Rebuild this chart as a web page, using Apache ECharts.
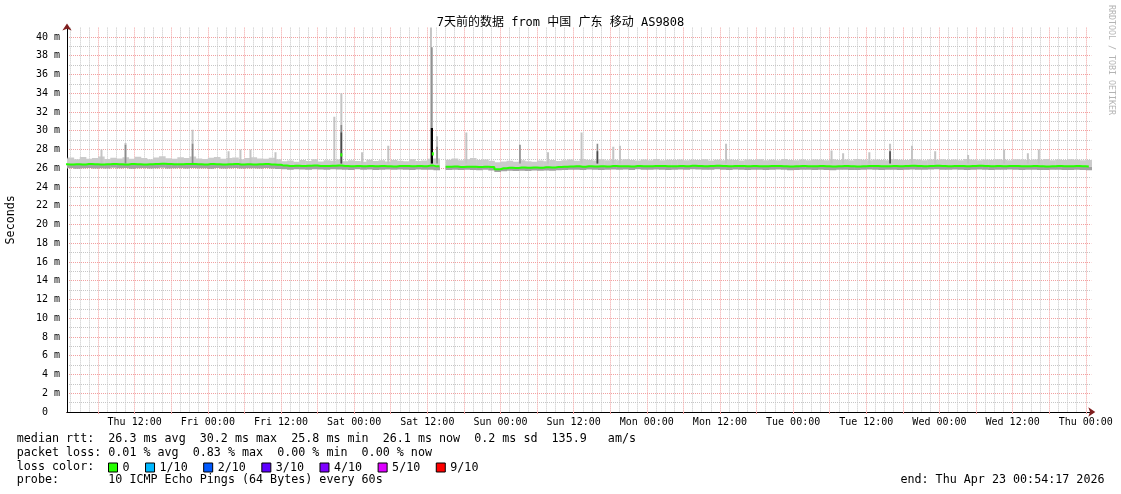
<!DOCTYPE html>
<html><head><meta charset="utf-8">
<script src="https://cdn.jsdelivr.net/npm/echarts@6/dist/echarts.min.js"></script>
<style>html,body{margin:0;padding:0;background:#fff}#c{width:1121px;height:494px}</style>
</head><body><div id="c"></div>
<script>
// Time axis: hours since Thu Apr 16 00:00; window = 7 days ending Thu Apr 23 00:54:17 2026
const START_H = 0.9047;
const END_H = 168.9047;
const xTickLabels = ['Thu 12:00','Fri 00:00','Fri 12:00','Sat 00:00','Sat 12:00','Sun 00:00','Sun 12:00',
  'Mon 00:00','Mon 12:00','Tue 00:00','Tue 12:00','Wed 00:00','Wed 12:00','Thu 00:00'];

// Hourly samples (index k covers hour k .. k+1), values in ms
const medianMs = [
  26.42,26.40,26.43,26.41,26.44,26.42,26.40,26.43,26.45,26.42,
  26.41,26.44,26.43,26.40,26.42,26.45,26.47,26.44,26.42,26.43,
  26.46,26.44,26.42,26.41,26.44,26.43,26.40,26.42,26.44,26.41,
  26.43,26.40,26.42,26.44,26.41,26.38,
  26.28,26.25,26.27,26.24,26.26,26.28,26.25,26.23,26.26,26.30,
  26.24,26.22,26.25,26.21,26.23,26.20,26.24,26.22,26.19,26.23,26.25,26.21,26.24,26.22,26.28,26.20,
  null,
  26.15,26.18,26.14,26.17,26.16,26.13,26.17,26.12,
  25.90,26.00,26.05,26.03,26.07,26.04,26.08,26.06,26.10,26.08,26.12,
  26.15,26.18,26.20,26.17,26.22,26.19,26.21,26.18,26.23,26.20,
  26.22,26.19,26.24,26.21,26.20,26.23,26.25,26.22,26.20,26.24,
  26.22,26.26,26.23,26.21,26.25,26.27,26.24,26.22,26.25,26.23,
  26.21,26.24,26.22,26.20,26.23,26.25,26.22,26.19,26.21,26.24,
  26.22,26.20,26.23,26.21,26.18,26.22,26.24,26.21,26.19,26.22,
  26.25,26.23,26.20,26.22,26.24,26.21,26.23,26.26,26.24,26.22,
  26.25,26.27,26.24,26.22,26.25,26.23,26.21,26.24,26.26,26.23,
  26.21,26.24,26.22,26.25,26.23,26.20,26.22,26.24,26.21,26.19,
  26.22,26.24,26.21,26.20,26.23,26.21,26.19
];
const minMs = [
  25.98,26.02,25.95,26.00,26.03,25.97,26.01,25.96,26.04,25.99,
  26.02,25.95,26.00,26.03,25.98,26.01,26.05,25.97,26.00,26.02,
  25.96,26.03,25.99,26.01,25.95,26.02,25.98,26.00,26.03,25.97,
  26.01,25.99,25.96,26.02,25.98,25.93,
  25.88,25.85,25.90,25.86,25.83,25.89,25.87,25.84,25.90,25.86,
  25.85,25.82,25.88,25.84,25.86,25.80,25.85,25.87,25.83,25.86,25.84,25.81,25.87,25.85,25.84,25.78,
  null,
  25.82,25.85,25.80,25.84,25.81,25.78,25.83,25.76,
  25.60,25.68,25.72,25.70,25.74,25.71,25.75,25.73,25.77,25.74,25.79,
  25.82,25.85,25.83,25.80,25.86,25.84,25.81,25.85,25.87,25.83,
  25.86,25.82,25.88,25.85,25.83,25.86,25.84,25.81,25.85,25.87,
  25.84,25.88,25.86,25.83,25.85,25.89,25.84,25.82,25.86,25.84,
  25.81,25.85,25.83,25.80,25.84,25.86,25.83,25.79,25.82,25.85,
  25.83,25.80,25.84,25.82,25.78,25.83,25.85,25.82,25.80,25.83,
  25.86,25.84,25.81,25.83,25.85,25.82,25.84,25.87,25.85,25.83,
  25.86,25.88,25.85,25.83,25.86,25.84,25.82,25.85,25.87,25.84,
  25.82,25.85,25.83,25.86,25.84,25.81,25.83,25.85,25.82,25.80,
  25.83,25.85,25.82,25.81,25.84,25.82,25.78
];
const maxMs = [
  27.05,27.15,26.95,27.20,27.00,27.10,27.25,26.98,27.12,27.05,
  27.18,27.02,27.22,27.08,26.96,27.14,27.28,27.06,27.00,27.16,
  27.10,27.24,27.04,26.98,27.12,27.20,27.02,27.08,27.15,26.96,
  27.10,27.18,27.04,27.00,27.12,26.95,
  26.75,26.82,26.70,26.88,26.78,26.95,26.72,26.85,26.80,26.92,
  26.74,26.86,26.78,26.70,26.90,26.76,26.84,26.72,26.88,26.80,26.74,26.95,26.78,26.82,27.00,27.05,
  null,
  26.90,27.05,26.85,26.95,27.10,26.88,26.92,26.80,
  26.65,26.72,26.80,26.68,26.85,26.75,26.70,26.82,26.74,26.88,26.78,
  26.85,26.92,26.80,26.98,26.88,26.82,26.95,26.86,26.90,26.84,
  26.96,26.88,26.82,26.92,26.86,26.99,26.84,26.90,26.87,26.93,
  26.85,26.91,26.88,26.96,26.83,26.90,26.86,26.94,26.88,26.82,
  26.92,26.87,26.95,26.84,26.90,26.86,26.98,26.88,26.84,26.92,
  26.86,26.94,26.90,26.85,26.97,26.88,26.92,26.86,26.99,26.90,
  26.86,26.93,26.88,26.84,26.95,26.90,26.87,26.98,26.92,26.86,
  26.94,26.90,26.96,26.88,26.92,26.86,26.98,26.90,26.85,26.93,
  26.88,26.95,26.90,26.86,26.97,26.92,26.88,26.94,26.90,26.99,
  26.86,26.92,26.88,26.95,26.90,26.84,26.88
];
// Spikes: [hour, top ms, shade] shade 0 light,1 mid,2 dark,3 black,4 median(green)
const spikes = [
  [6.56,28.0,0],[10.5,28.7,0],[10.5,28.5,1],[21.5,30.1,0],[21.5,28.6,1],
  [27.4,27.8,0],[29.35,28.0,0],[31.0,28.0,0],[35.1,27.7,0],
  [44.75,31.5,0],[45.9,34.0,0],[45.9,30.6,1],[45.9,29.8,2],[45.9,27.6,4],
  [49.3,27.7,0],[53.6,28.4,0],
  [60.6,41.5,0],[60.75,38.9,1],[60.75,30.3,3],[60.9,27.7,4],
  [61.6,29.4,0],[61.6,28.3,1],[66.4,29.8,0],[75.2,28.5,1],[79.8,27.7,0],
  [85.3,29.8,0],[87.9,28.6,1],[87.9,27.8,2],[90.5,28.3,0],[91.6,28.4,0],
  [109.0,28.6,0],[126.3,27.9,0],[128.2,27.6,0],[132.5,27.7,0],
  [135.9,28.6,0],[135.9,27.8,2],[139.5,28.4,0],[143.3,27.8,0],[148.7,27.4,0],
  [154.6,28.0,0],[158.5,27.6,0],[160.3,28.0,0]
];
const lossNames = ['0','1/10','2/10','3/10','4/10','5/10','9/10'];
const lossColors = ['#26ff00','#00b8ff','#0059ff','#5e00ff','#7e00ff','#dd00ff','#ff0000'];
const statsLines = [
  'median rtt:  26.3 ms avg  30.2 ms max  25.8 ms min  26.1 ms now  0.2 ms sd  135.9   am/s',
  'packet loss: 0.01 % avg  0.83 % max  0.00 % min  0.00 % now',
  'loss color:',
  'probe:       10 ICMP Echo Pings (64 Bytes) every 60s'
];
const endText = 'end: Thu Apr 23 00:54:17 2026';
const titleText = '7天前的数据 from 中国 广东 移动 AS9808';

const MONO = '"DejaVu Sans Mono", monospace';
const GRID_RED = '#f2a0a0', GRID_GREY = '#c6c6c6', ARROW = '#801f1f';

const majorX = [], minorX = [], labelX = [];
for (let v = 1.5; v < END_H; v += 1.5) { if (v % 6 === 0) majorX.push(v); else minorX.push(v); }
for (let v = 12; v < END_H; v += 12) labelX.push(v);

const bandData = [];
medianMs.forEach((m, k) => { if (m != null) bandData.push([k, minMs[k], m, maxMs[k]]); });
const medianData = medianMs.map((m, k) => [k + 0.5, m]);

const spikeColors = ['#c4c4c4', '#8c8c8c', '#4a4a4a', '#000000', '#26ff00'];
const spikeWidths = [2, 1.6, 1.6, 2.2, 2];
const SPIKE_BASE = 26.5;

const chart = echarts.init(document.getElementById('c'), null, {renderer: 'canvas'});
const baseX = {type: 'value', min: START_H, max: END_H, position: 'bottom', gridIndex: 0};
chart.setOption({
  animation: false,
  backgroundColor: '#ffffff',
  title: {text: titleText, left: 'center', top: 12,
    textStyle: {fontFamily: '"DejaVu Sans Mono", "Noto Sans CJK SC", monospace', fontSize: 12, fontWeight: 'normal', color: '#000'}},
  grid: {left: 67, right: 29.7, top: 27.6, bottom: 82, containLabel: false, outerBoundsMode: 'none'},
  legend: {left: 103, top: 456.5, icon: 'rect', itemWidth: 9, itemHeight: 9, itemGap: 15.5, selectedMode: false,
    itemStyle: {borderColor: '#000', borderWidth: 1},
    textStyle: {fontFamily: MONO, fontSize: 11.7, color: '#000'}, data: lossNames},
  xAxis: [
    Object.assign({}, baseX, {
      axisLine: {show: true, lineStyle: {color: ARROW, width: 1}, symbol: ['none', 'arrow'], symbolSize: [7, 7], symbolOffset: [0, 4]},
      axisTick: {show: true, length: 2, customValues: majorX, lineStyle: {color: GRID_RED}},
      axisLabel: {show: true, customValues: labelX, margin: 5, fontFamily: MONO, fontSize: 10, color: '#000',
        formatter: v => xTickLabels[Math.round(v / 12) - 1]},
      splitLine: {show: true, lineStyle: {color: GRID_RED, type: 'dotted', width: 1}}
    }),
    Object.assign({}, baseX, {
      axisLine: {show: false}, axisLabel: {show: false},
      axisTick: {show: false, customValues: minorX},
      splitLine: {show: true, lineStyle: {color: GRID_GREY, type: 'dotted', width: 1}}
    }),
    Object.assign({}, baseX, {
      axisLine: {show: true, lineStyle: {color: '#000', width: 1}}, axisLabel: {show: false},
      axisTick: {show: false}, splitLine: {show: false}
    })
  ],
  yAxis: [
    {type: 'value', min: 0, max: 41, interval: 1,
      name: 'Seconds', nameLocation: 'middle', nameRotate: 90, nameGap: 50,
      nameTextStyle: {fontFamily: MONO, fontSize: 11.7, color: '#000'},
      axisLine: {show: true, lineStyle: {color: ARROW}, symbol: ['none', 'arrow'], symbolSize: [7, 7], symbolOffset: [0, 4]},
      axisTick: {show: false},
      axisLabel: {margin: 7, fontFamily: MONO, fontSize: 10, color: '#000',
        formatter: v => v === 0 ? '0  ' : (v % 2 === 0 && v <= 40 ? v + ' m' : '')},
      splitLine: {show: true, showMaxLine: false, lineStyle: {color: [GRID_RED, GRID_GREY], type: 'dotted', width: 1}}
    },
    {type: 'value', min: 0, max: 41, interval: 1, position: 'left',
      axisLine: {show: true, lineStyle: {color: '#000'}}, axisTick: {show: false}, axisLabel: {show: false}, splitLine: {show: false}}
  ],
  series: [
    {type: 'custom', name: 'smoke', xAxisIndex: 0, yAxisIndex: 0, clip: true, silent: true, z: 2,
      encode: {x: 0, y: [1, 2, 3]}, data: bandData,
      renderItem: (params, api) => {
        const k = api.value(0);
        const a = api.coord([k, api.value(1)]);
        const b = api.coord([k + 1, api.value(2)]);
        const c = api.coord([k, api.value(3)]);
        return {type: 'group', children: [
          {type: 'rect', shape: {x: a[0], y: b[1], width: b[0] - a[0] + 0.5, height: a[1] - b[1]}, style: {fill: '#a2a2a2'}},
          {type: 'rect', shape: {x: a[0], y: c[1], width: b[0] - a[0] + 0.5, height: b[1] - c[1]}, style: {fill: '#cbcbcb'}}
        ]};
      }},
    {type: 'custom', name: 'spikes', xAxisIndex: 0, yAxisIndex: 0, clip: true, silent: true, z: 3,
      encode: {x: 0, y: 1}, data: spikes,
      renderItem: (params, api) => {
        const s = api.value(2);
        const top = api.value(1);
        const a = api.coord([api.value(0), top]);
        const b = api.coord([api.value(0), s === 4 ? top - 0.35 : SPIKE_BASE]);
        const w = spikeWidths[s];
        return {type: 'rect', shape: {x: a[0] - w / 2, y: a[1], width: w, height: b[1] - a[1]}, style: {fill: spikeColors[s]}};
      }},
    {type: 'line', name: '0', xAxisIndex: 0, yAxisIndex: 0, data: medianData, step: 'middle', showSymbol: false,
      connectNulls: false, lineStyle: {color: lossColors[0], width: 2}, itemStyle: {color: lossColors[0]}, z: 4}
  ].concat(lossNames.slice(1).map((n, i) => ({type: 'line', name: n, data: [],
      itemStyle: {color: lossColors[i + 1]}, lineStyle: {color: lossColors[i + 1]}}))),
  graphic: [
    {type: 'text', x: 16.8, y: 438.5, style: {text: statsLines[0], font: '11.7px ' + MONO, fill: '#000', verticalAlign: 'middle'}},
    {type: 'text', x: 16.8, y: 452.5, style: {text: statsLines[1], font: '11.7px ' + MONO, fill: '#000', verticalAlign: 'middle'}},
    {type: 'text', x: 16.8, y: 466.5, style: {text: statsLines[2], font: '11.7px ' + MONO, fill: '#000', verticalAlign: 'middle'}},
    {type: 'text', x: 16.8, y: 480, style: {text: statsLines[3], font: '11.7px ' + MONO, fill: '#000', verticalAlign: 'middle'}},
    {type: 'text', x: 1104.5, y: 480, style: {text: endText, font: '11.7px ' + MONO, fill: '#000', align: 'right', verticalAlign: 'middle'}},
    {type: 'text', x: 1111.5, y: 60, rotation: -Math.PI / 2,
      style: {text: 'RRDTOOL / TOBI OETIKER', font: '8.3px ' + MONO, fill: '#b4b4b4', align: 'center', verticalAlign: 'middle'}}
  ]
});
</script></body></html>
